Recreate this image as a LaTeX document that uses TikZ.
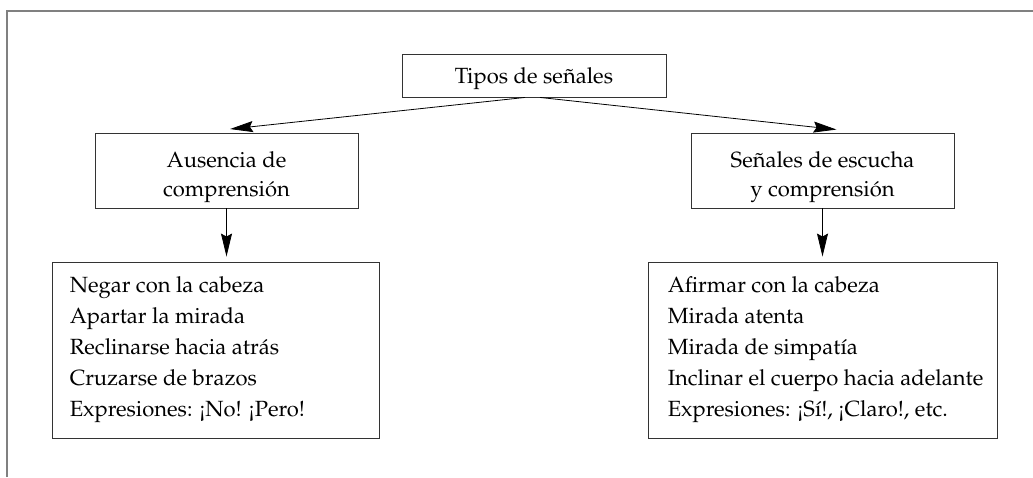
\documentclass[tikz,border=0pt]{standalone}
\IfFileExists{t1ppl.fd}{%
  \usepackage[T1]{fontenc}%
  \renewcommand{\rmdefault}{ppl}%
}{%
  \usepackage{fontspec}%
  \setmainfont{Liberation Serif}%
}
\usetikzlibrary{arrows.meta}
% invisible struts that fix the height of a first line and the depth of a last line
\newcommand{\toprule}[1]{\rule{0pt}{#1}}
\newcommand{\botrule}[1]{\rule[-#1]{0pt}{#1}}
\begin{document}
\begin{tikzpicture}[x=1pt,y=-1pt,
  frameline/.style={draw=black!50, line width=1.8pt},
  box/.style={draw=black!80, line width=0.9pt, rectangle, inner sep=0pt,
    align=center, font=\fontsize{22}{29.3}\selectfont},
  listbox/.style={draw=black!80, line width=0.9pt, rectangle, inner sep=0pt},
  listtext/.style={inner sep=0pt, align=left, anchor=west,
    font=\fontsize{22}{31.1}\selectfont},
  conn/.style={-{Stealth[length=23pt,width=11pt,inset=3pt]}, line width=0.8pt}]
\useasboundingbox (0,0) rectangle (1033,477);
% open frame around the chart
\draw[frameline] (7,477) -- (7,11) -- (1033,11);

% header
\node[box, minimum width=264pt, minimum height=43pt] (tipos) at (534,75.5)
  {\toprule{22pt}Tipos de se\~nales\botrule{7pt}};

% second level
\node[box, minimum width=263pt, minimum height=75pt] (ausencia) at (226.5,170.5)
  {\toprule{29.3pt}Ausencia de\\comprensi\'on\botrule{7pt}};
\node[box, minimum width=263pt, minimum height=75pt] (escucha) at (822.5,170.5)
  {\toprule{29.3pt}Se\~nales de escucha\\y comprensi\'on\botrule{7pt}};

% lists of signals
\node[listbox, minimum width=327pt, minimum height=176pt] (negativas) at (215.5,350) {};
\node[listtext] (negtexto) at ([xshift=18pt]negativas.west)
  {\toprule{16pt}Negar con la cabeza\\
   Apartar la mirada\\
   Reclinarse hacia atr\'as\\
   Cruzarse de brazos\\
   Expresiones: \textexclamdown No! \textexclamdown Pero!\botrule{7pt}};
\node[listbox, minimum width=349pt, minimum height=176pt] (positivas) at (822.5,350) {};
\node[listtext] (postexto) at ([xshift=20pt]positivas.west)
  {\toprule{16pt}Afirmar con la cabeza\\
   Mirada atenta\\
   Mirada de simpat\'{\i}a\\
   Inclinar el cuerpo hacia adelante\\
   Expresiones: \textexclamdown S\'{\i}!, \textexclamdown Claro!, etc.\botrule{7pt}};

% connectors
\draw[conn] ([xshift=-9pt]tipos.south) -- ([xshift=3.5pt,yshift=3.5pt]ausencia.north);
\draw[conn] ([xshift=6pt]tipos.south) -- ([xshift=14pt,yshift=3pt]escucha.north);
\draw[conn] (ausencia.south) -- ([yshift=5pt]negativas.north -| ausencia.south);
\draw[conn] (escucha.south) -- ([yshift=5pt]positivas.north -| escucha.south);
\end{tikzpicture}
\end{document}
